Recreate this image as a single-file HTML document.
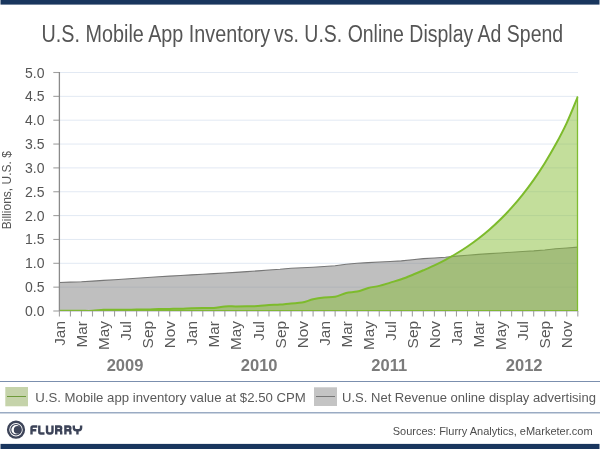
<!DOCTYPE html>
<html><head><meta charset="utf-8"><style>
html,body{margin:0;padding:0;background:#fff;}
svg{display:block;will-change:transform;}
text{font-family:"Liberation Sans",sans-serif;}
</style></head><body>
<svg width="600" height="449" viewBox="0 0 600 449">
<rect x="0" y="0" width="600" height="449" fill="#fff"/>
<rect x="0.5" y="0" width="599" height="4.6" fill="#19365e"/>
<rect x="0.5" y="443.9" width="599" height="5.1" fill="#19365e"/>
<text x="41.6" y="42.2" font-size="24.7" fill="#555" textLength="228.6" lengthAdjust="spacingAndGlyphs">U.S. Mobile App Inventory</text><text x="274.0" y="42.2" font-size="24.7" fill="#555" textLength="289.2" lengthAdjust="spacingAndGlyphs">vs. U.S. Online Display Ad Spend</text>
<g stroke="#e2e9f3" stroke-width="1"><line x1="60" x2="578" y1="287.15" y2="287.15"/><line x1="60" x2="578" y1="263.30" y2="263.30"/><line x1="60" x2="578" y1="239.45" y2="239.45"/><line x1="60" x2="578" y1="215.60" y2="215.60"/><line x1="60" x2="578" y1="191.75" y2="191.75"/><line x1="60" x2="578" y1="167.90" y2="167.90"/><line x1="60" x2="578" y1="144.05" y2="144.05"/><line x1="60" x2="578" y1="120.20" y2="120.20"/><line x1="60" x2="578" y1="96.35" y2="96.35"/><line x1="60" x2="578" y1="72.50" y2="72.50"/></g>
<defs><clipPath id="pc"><rect x="59.4" y="60" width="519" height="251"/></clipPath></defs>
<g clip-path="url(#pc)">
<path d="M59.40,311.0 L59.40,282.50 70.43,282.15 81.46,281.80 92.49,281.11 103.52,280.41 114.55,279.72 125.58,279.03 136.61,278.28 147.64,277.54 158.67,276.79 169.70,276.14 180.73,275.51 191.76,274.87 202.79,274.24 213.82,273.61 224.85,272.98 235.88,272.34 246.91,271.58 257.94,270.83 268.97,270.07 280.00,269.30 291.03,268.26 302.06,267.82 313.09,267.29 324.11,266.56 335.14,265.82 346.17,264.28 357.20,263.19 368.23,262.61 379.26,262.04 390.29,261.49 401.32,260.86 412.35,259.70 423.38,258.67 434.41,257.93 445.44,257.18 456.47,256.09 467.50,255.25 478.53,254.41 489.56,253.66 500.59,252.93 511.62,252.20 522.65,251.54 533.68,250.88 544.71,249.97 555.74,248.75 566.77,247.93 577.80,247.11 L577.80,311.0 Z" fill="rgba(128,128,128,0.5)"/>
<polyline points="59.40,282.50 70.43,282.15 81.46,281.80 92.49,281.11 103.52,280.41 114.55,279.72 125.58,279.03 136.61,278.28 147.64,277.54 158.67,276.79 169.70,276.14 180.73,275.51 191.76,274.87 202.79,274.24 213.82,273.61 224.85,272.98 235.88,272.34 246.91,271.58 257.94,270.83 268.97,270.07 280.00,269.30 291.03,268.26 302.06,267.82 313.09,267.29 324.11,266.56 335.14,265.82 346.17,264.28 357.20,263.19 368.23,262.61 379.26,262.04 390.29,261.49 401.32,260.86 412.35,259.70 423.38,258.67 434.41,257.93 445.44,257.18 456.47,256.09 467.50,255.25 478.53,254.41 489.56,253.66 500.59,252.93 511.62,252.20 522.65,251.54 533.68,250.88 544.71,249.97 555.74,248.75 566.77,247.93 577.80,247.11" fill="none" stroke="#777" stroke-width="1.1"/>
<path d="M59.40,310.81 C61.24,310.81 66.75,310.81 70.43,310.81 C74.11,310.81 77.78,310.81 81.46,310.81 C85.14,310.81 88.81,310.98 92.49,310.81 C96.17,310.64 99.84,309.98 103.52,309.81 C107.20,309.63 110.87,309.78 114.55,309.76 C118.23,309.74 121.90,309.74 125.58,309.71 C129.26,309.69 132.93,309.65 136.61,309.62 C140.29,309.58 143.96,309.61 147.64,309.52 C151.31,309.43 154.99,309.20 158.67,309.09 C162.34,308.99 166.02,308.96 169.70,308.90 C173.37,308.84 177.05,308.83 180.73,308.71 C184.40,308.59 188.08,308.32 191.76,308.19 C195.43,308.05 199.11,307.95 202.79,307.90 C206.46,307.85 210.14,308.15 213.82,307.90 C217.49,307.65 221.17,306.67 224.85,306.42 C228.52,306.17 232.20,306.44 235.88,306.42 C239.55,306.40 243.23,306.38 246.91,306.33 C250.58,306.27 254.26,306.29 257.94,306.09 C261.61,305.88 265.29,305.33 268.97,305.09 C272.64,304.84 276.32,304.89 280.00,304.61 C283.67,304.33 287.35,303.75 291.03,303.42 C294.70,303.08 298.38,303.29 302.06,302.60 C305.73,301.92 309.41,300.16 313.09,299.31 C316.76,298.46 320.44,297.92 324.11,297.50 C327.79,297.08 331.47,297.55 335.14,296.79 C338.82,296.02 342.50,293.79 346.17,292.92 C349.85,292.06 353.53,292.40 357.20,291.59 C360.88,290.77 364.56,288.96 368.23,288.01 C371.91,287.05 375.59,286.76 379.26,285.86 C382.94,284.96 386.62,283.72 390.29,282.62 C393.97,281.52 397.65,280.55 401.32,279.28 C405.00,278.01 408.68,276.49 412.35,274.99 C416.03,273.48 419.71,271.87 423.38,270.26 C427.06,268.66 430.74,267.09 434.41,265.35 C438.09,263.61 441.77,261.79 445.44,259.82 C449.12,257.85 452.80,255.75 456.47,253.52 C460.15,251.30 463.83,248.97 467.50,246.46 C471.18,243.95 474.86,241.29 478.53,238.45 C482.21,235.61 485.89,232.64 489.56,229.43 C493.24,226.23 496.91,222.85 500.59,219.23 C504.27,215.60 507.94,211.78 511.62,207.68 C515.30,203.58 518.97,199.25 522.65,194.61 C526.33,189.98 530.00,185.11 533.68,179.87 C537.36,174.63 541.03,169.10 544.71,163.18 C548.39,157.25 552.06,151.06 555.74,144.34 C559.42,137.61 563.09,130.78 566.77,122.82 C570.45,114.87 575.96,100.96 577.80,96.59 L577.80,313.0 L59.40,313.0 Z" fill="rgba(135,189,55,0.5)"/>
<path d="M59.40,310.81 C61.24,310.81 66.75,310.81 70.43,310.81 C74.11,310.81 77.78,310.81 81.46,310.81 C85.14,310.81 88.81,310.98 92.49,310.81 C96.17,310.64 99.84,309.98 103.52,309.81 C107.20,309.63 110.87,309.78 114.55,309.76 C118.23,309.74 121.90,309.74 125.58,309.71 C129.26,309.69 132.93,309.65 136.61,309.62 C140.29,309.58 143.96,309.61 147.64,309.52 C151.31,309.43 154.99,309.20 158.67,309.09 C162.34,308.99 166.02,308.96 169.70,308.90 C173.37,308.84 177.05,308.83 180.73,308.71 C184.40,308.59 188.08,308.32 191.76,308.19 C195.43,308.05 199.11,307.95 202.79,307.90 C206.46,307.85 210.14,308.15 213.82,307.90 C217.49,307.65 221.17,306.67 224.85,306.42 C228.52,306.17 232.20,306.44 235.88,306.42 C239.55,306.40 243.23,306.38 246.91,306.33 C250.58,306.27 254.26,306.29 257.94,306.09 C261.61,305.88 265.29,305.33 268.97,305.09 C272.64,304.84 276.32,304.89 280.00,304.61 C283.67,304.33 287.35,303.75 291.03,303.42 C294.70,303.08 298.38,303.29 302.06,302.60 C305.73,301.92 309.41,300.16 313.09,299.31 C316.76,298.46 320.44,297.92 324.11,297.50 C327.79,297.08 331.47,297.55 335.14,296.79 C338.82,296.02 342.50,293.79 346.17,292.92 C349.85,292.06 353.53,292.40 357.20,291.59 C360.88,290.77 364.56,288.96 368.23,288.01 C371.91,287.05 375.59,286.76 379.26,285.86 C382.94,284.96 386.62,283.72 390.29,282.62 C393.97,281.52 397.65,280.55 401.32,279.28 C405.00,278.01 408.68,276.49 412.35,274.99 C416.03,273.48 419.71,271.87 423.38,270.26 C427.06,268.66 430.74,267.09 434.41,265.35 C438.09,263.61 441.77,261.79 445.44,259.82 C449.12,257.85 452.80,255.75 456.47,253.52 C460.15,251.30 463.83,248.97 467.50,246.46 C471.18,243.95 474.86,241.29 478.53,238.45 C482.21,235.61 485.89,232.64 489.56,229.43 C493.24,226.23 496.91,222.85 500.59,219.23 C504.27,215.60 507.94,211.78 511.62,207.68 C515.30,203.58 518.97,199.25 522.65,194.61 C526.33,189.98 530.00,185.11 533.68,179.87 C537.36,174.63 541.03,169.10 544.71,163.18 C548.39,157.25 552.06,151.06 555.74,144.34 C559.42,137.61 563.09,130.78 566.77,122.82 C570.45,114.87 575.96,100.96 577.80,96.59" fill="none" stroke="#7dbb2c" stroke-width="2.0" stroke-linejoin="round"/>
<line x1="577.6" x2="577.6" y1="96.59" y2="311.0" stroke="#80bd30" stroke-width="1.5"/>
<line x1="59.40" x2="577.80" y1="310.5" y2="310.5" stroke="#80b636" stroke-width="1"/>
</g>
<line x1="59.4" x2="578.5" y1="311.5" y2="311.5" stroke="#d6d6de" stroke-width="1"/>
<g stroke="#a0a0a0" stroke-width="1.1"><line x1="53.3" x2="59.4" y1="311.00" y2="311.00"/><line x1="53.3" x2="59.4" y1="287.15" y2="287.15"/><line x1="53.3" x2="59.4" y1="263.30" y2="263.30"/><line x1="53.3" x2="59.4" y1="239.45" y2="239.45"/><line x1="53.3" x2="59.4" y1="215.60" y2="215.60"/><line x1="53.3" x2="59.4" y1="191.75" y2="191.75"/><line x1="53.3" x2="59.4" y1="167.90" y2="167.90"/><line x1="53.3" x2="59.4" y1="144.05" y2="144.05"/><line x1="53.3" x2="59.4" y1="120.20" y2="120.20"/><line x1="53.3" x2="59.4" y1="96.35" y2="96.35"/><line x1="53.3" x2="59.4" y1="72.50" y2="72.50"/><line x1="59.40" x2="59.40" y1="311" y2="316.5"/><line x1="70.43" x2="70.43" y1="311" y2="316.5"/><line x1="81.46" x2="81.46" y1="311" y2="316.5"/><line x1="92.49" x2="92.49" y1="311" y2="316.5"/><line x1="103.52" x2="103.52" y1="311" y2="316.5"/><line x1="114.55" x2="114.55" y1="311" y2="316.5"/><line x1="125.58" x2="125.58" y1="311" y2="316.5"/><line x1="136.61" x2="136.61" y1="311" y2="316.5"/><line x1="147.64" x2="147.64" y1="311" y2="316.5"/><line x1="158.67" x2="158.67" y1="311" y2="316.5"/><line x1="169.70" x2="169.70" y1="311" y2="316.5"/><line x1="180.73" x2="180.73" y1="311" y2="316.5"/><line x1="191.76" x2="191.76" y1="311" y2="316.5"/><line x1="202.79" x2="202.79" y1="311" y2="316.5"/><line x1="213.82" x2="213.82" y1="311" y2="316.5"/><line x1="224.85" x2="224.85" y1="311" y2="316.5"/><line x1="235.88" x2="235.88" y1="311" y2="316.5"/><line x1="246.91" x2="246.91" y1="311" y2="316.5"/><line x1="257.94" x2="257.94" y1="311" y2="316.5"/><line x1="268.97" x2="268.97" y1="311" y2="316.5"/><line x1="280.00" x2="280.00" y1="311" y2="316.5"/><line x1="291.03" x2="291.03" y1="311" y2="316.5"/><line x1="302.06" x2="302.06" y1="311" y2="316.5"/><line x1="313.09" x2="313.09" y1="311" y2="316.5"/><line x1="324.11" x2="324.11" y1="311" y2="316.5"/><line x1="335.14" x2="335.14" y1="311" y2="316.5"/><line x1="346.17" x2="346.17" y1="311" y2="316.5"/><line x1="357.20" x2="357.20" y1="311" y2="316.5"/><line x1="368.23" x2="368.23" y1="311" y2="316.5"/><line x1="379.26" x2="379.26" y1="311" y2="316.5"/><line x1="390.29" x2="390.29" y1="311" y2="316.5"/><line x1="401.32" x2="401.32" y1="311" y2="316.5"/><line x1="412.35" x2="412.35" y1="311" y2="316.5"/><line x1="423.38" x2="423.38" y1="311" y2="316.5"/><line x1="434.41" x2="434.41" y1="311" y2="316.5"/><line x1="445.44" x2="445.44" y1="311" y2="316.5"/><line x1="456.47" x2="456.47" y1="311" y2="316.5"/><line x1="467.50" x2="467.50" y1="311" y2="316.5"/><line x1="478.53" x2="478.53" y1="311" y2="316.5"/><line x1="489.56" x2="489.56" y1="311" y2="316.5"/><line x1="500.59" x2="500.59" y1="311" y2="316.5"/><line x1="511.62" x2="511.62" y1="311" y2="316.5"/><line x1="522.65" x2="522.65" y1="311" y2="316.5"/><line x1="533.68" x2="533.68" y1="311" y2="316.5"/><line x1="544.71" x2="544.71" y1="311" y2="316.5"/><line x1="555.74" x2="555.74" y1="311" y2="316.5"/><line x1="566.77" x2="566.77" y1="311" y2="316.5"/><line x1="577.80" x2="577.80" y1="311" y2="316.5"/></g><line x1="59.4" x2="59.4" y1="72" y2="311" stroke="#8a8a8a" stroke-width="1.3"/>
<g font-size="14" fill="#555" text-anchor="end"><text x="44.5" y="316.00">0.0</text><text x="44.5" y="292.15">0.5</text><text x="44.5" y="268.30">1.0</text><text x="44.5" y="244.45">1.5</text><text x="44.5" y="220.60">2.0</text><text x="44.5" y="196.75">2.5</text><text x="44.5" y="172.90">3.0</text><text x="44.5" y="149.05">3.5</text><text x="44.5" y="125.20">4.0</text><text x="44.5" y="101.35">4.5</text><text x="44.5" y="77.50">5.0</text></g>
<g font-size="14" fill="#585858" text-anchor="end"><text transform="translate(65.00,321) rotate(-90) scale(1.1,1)">Jan</text><text transform="translate(87.06,321) rotate(-90) scale(1.1,1)">Mar</text><text transform="translate(109.12,321) rotate(-90) scale(1.1,1)">May</text><text transform="translate(131.18,321) rotate(-90) scale(1.1,1)">Jul</text><text transform="translate(153.24,321) rotate(-90) scale(1.1,1)">Sep</text><text transform="translate(175.30,321) rotate(-90) scale(1.1,1)">Nov</text><text transform="translate(197.36,321) rotate(-90) scale(1.1,1)">Jan</text><text transform="translate(219.42,321) rotate(-90) scale(1.1,1)">Mar</text><text transform="translate(241.48,321) rotate(-90) scale(1.1,1)">May</text><text transform="translate(263.54,321) rotate(-90) scale(1.1,1)">Jul</text><text transform="translate(285.60,321) rotate(-90) scale(1.1,1)">Sep</text><text transform="translate(307.66,321) rotate(-90) scale(1.1,1)">Nov</text><text transform="translate(329.71,321) rotate(-90) scale(1.1,1)">Jan</text><text transform="translate(351.77,321) rotate(-90) scale(1.1,1)">Mar</text><text transform="translate(373.83,321) rotate(-90) scale(1.1,1)">May</text><text transform="translate(395.89,321) rotate(-90) scale(1.1,1)">Jul</text><text transform="translate(417.95,321) rotate(-90) scale(1.1,1)">Sep</text><text transform="translate(440.01,321) rotate(-90) scale(1.1,1)">Nov</text><text transform="translate(462.07,321) rotate(-90) scale(1.1,1)">Jan</text><text transform="translate(484.13,321) rotate(-90) scale(1.1,1)">Mar</text><text transform="translate(506.19,321) rotate(-90) scale(1.1,1)">May</text><text transform="translate(528.25,321) rotate(-90) scale(1.1,1)">Jul</text><text transform="translate(550.31,321) rotate(-90) scale(1.1,1)">Sep</text><text transform="translate(572.37,321) rotate(-90) scale(1.1,1)">Nov</text></g>
<g font-size="16.5" font-weight="bold" fill="#7b7b7b" text-anchor="middle"><text x="125" y="370.6">2009</text><text x="259.2" y="370.6">2010</text><text x="389.2" y="370.6">2011</text><text x="524.2" y="370.6">2012</text></g>
<text transform="translate(10.8,190.2) rotate(-90)" font-size="12" fill="#555" text-anchor="middle">Billions, U.S. $</text>
<line x1="0" x2="600" y1="381.5" y2="381.5" stroke="#7b8fae" stroke-width="1"/>
<line x1="0" x2="600" y1="412.8" y2="412.8" stroke="#9aabc3" stroke-width="1.4"/>
<rect x="5.3" y="387" width="22.7" height="19.3" fill="#c5d3aa"/>
<line x1="7" x2="26" y1="396.5" y2="396.5" stroke="#6e9a3a" stroke-width="1"/>
<text x="35.3" y="401.7" font-size="13" fill="#5a5a5a" textLength="270.5" lengthAdjust="spacingAndGlyphs">U.S. Mobile app inventory value at $2.50 CPM</text>
<rect x="314" y="387.3" width="23" height="18.7" fill="#c4c4c4"/>
<line x1="316" x2="335" y1="396.5" y2="396.5" stroke="#777" stroke-width="1"/>
<text x="342.1" y="401.6" font-size="13" fill="#5a5a5a" textLength="253.8" lengthAdjust="spacingAndGlyphs">U.S. Net Revenue online display advertising</text>
<g>
<circle cx="16" cy="429.7" r="7.9" fill="none" stroke="#3d4459" stroke-width="2.4"/>
<circle cx="16" cy="429.7" r="5.2" fill="none" stroke="#3d4459" stroke-width="1.2"/>
<circle cx="17.6" cy="429.9" r="3.8" fill="#3d4459"/>
</g><g fill="none" stroke="#3d4459" stroke-width="2.4">
<path d="M31.5,434.6 V428 Q31.5,426.5 33,426.5 H37.3 M31.5,430.2 H36.3"/>
<path d="M39.3,425.4 V432 Q39.3,433.5 40.8,433.5 H44.5"/>
<path d="M47,425.4 V431.3 Q47,433.5 49.2,433.5 H50.3 Q52.5,433.5 52.5,431.3 V425.4"/>
<path d="M56.2,434.6 V426.5 H59.4 Q61.2,426.5 61.2,428.3 Q61.2,430.2 59.4,430.2 H56.2 M59,430.2 Q61.2,430.2 61.2,432 V434.6"/>
<path d="M65.4,434.6 V426.5 H68.6 Q70.4,426.5 70.4,428.3 Q70.4,430.2 68.6,430.2 H65.4 M68.2,430.2 Q70.4,430.2 70.4,432 V434.6"/>
<path d="M73.8,425.4 V427.8 Q73.8,430.3 76.3,430.3 H78.6 Q81.1,430.3 81.1,427.8 V425.4 M77.45,430.3 V434.6"/>
</g>
<text x="392.7" y="435" font-size="11" fill="#4d4d4d">Sources: Flurry Analytics, eMarketer.com</text>
</svg>
</body></html>
